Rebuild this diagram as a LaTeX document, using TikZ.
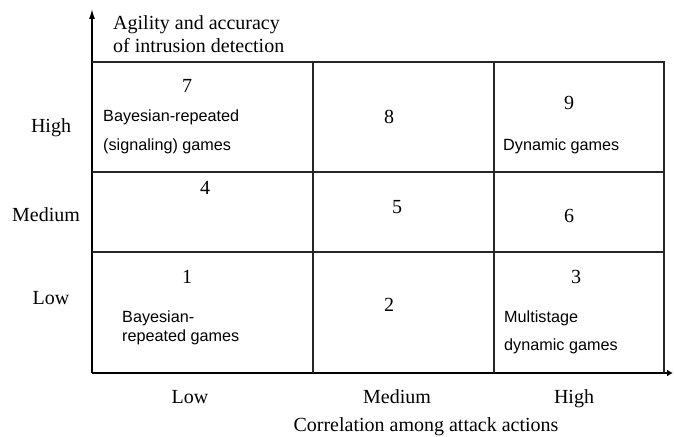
\documentclass[tikz,border=0pt]{standalone}
\usepackage{fontspec}
\setmainfont{Liberation Serif}
\newfontfamily\gamefont{Liberation Sans}
\usetikzlibrary{arrows.meta}
\begin{document}
\begin{tikzpicture}[x=1pt,y=-1pt,
  gridline/.style={line width=1.4pt, black!85},
  axisline/.style={line width=1.4pt},
  serif/.style={font=\fontsize{20}{23}\selectfont, inner sep=0pt},
  cellnum/.style={serif},
  gamelabel/.style={font=\gamefont\fontsize{16.2}{19}\selectfont, inner sep=0pt, anchor=west, align=left},
]
\useasboundingbox (0,0) rectangle (674,436);

% axes
\coordinate (O) at (92,373);
\coordinate (ytip) at (92,9);
\coordinate (xtip) at (673,373);
\draw[axisline,-{Latex[length=10pt,width=6pt]}] (O) -- (ytip);
\draw[axisline,-{Latex[length=6pt,width=7pt]}] (O) -- (xtip);

% grid of cells
\coordinate (tl) at (92,62);
\coordinate (tr) at (664,62);
\coordinate (br) at (664,373);
\draw[gridline] (tl) -- (tr) -- (br);
\draw[gridline] (92,172) -- (664,172);
\draw[gridline] (92,252) -- (664,252);
\draw[gridline] (313,62) -- (313,373);
\draw[gridline] (494,62) -- (494,373);

% axis titles
\node[serif, anchor=west, align=left] (ytitle) at (113,34)
  {Agility and accuracy\\of intrusion detection};
\node[serif, anchor=base] (xtitle) at (426,431) {Correlation among attack actions};

% row labels
\node[serif] (rhigh) at (51,128) {High};
\node[serif] (rmed) at (46,215) {Medium};
\node[serif] (rlow) at (51,298) {Low};

% column labels
\node[serif, anchor=base] (clow) at (190,403) {Low};
\node[serif, anchor=base] (cmed) at (397,403) {Medium};
\node[serif, anchor=base] (chigh) at (574,403) {High};

% cell numbers
\node[cellnum] (n7) at (187,86) {7};
\node[cellnum] (n8) at (389,117) {8};
\node[cellnum] (n9) at (569,103) {9};
\node[cellnum] (n4) at (205,188) {4};
\node[cellnum] (n5) at (397,207) {5};
\node[cellnum] (n6) at (569,216) {6};
\node[cellnum] (n1) at (187,277) {1};
\node[cellnum] (n2) at (389,305) {2};
\node[cellnum] (n3) at (576,277) {3};

% game classes
\node[gamelabel] (g7a) at (103,117) {Bayesian-repeated};
\node[gamelabel] (g7b) at (103,146) {(signaling) games};
\node[gamelabel] (g9) at (503,146) {Dynamic games};
\node[gamelabel] (g1a) at (122,318) {Bayesian-};
\node[gamelabel] (g1b) at (122,337) {repeated games};
\node[gamelabel] (g3a) at (504,318) {Multistage};
\node[gamelabel] (g3b) at (504,346) {dynamic games};
\end{tikzpicture}
\end{document}
